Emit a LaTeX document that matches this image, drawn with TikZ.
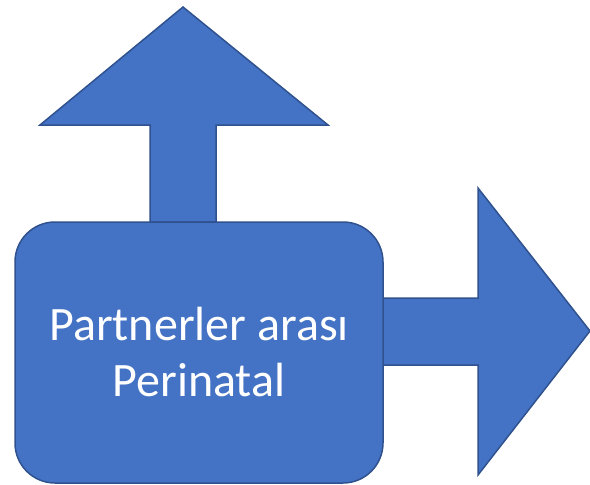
\documentclass[tikz,border=0pt]{standalone}
\usepackage{fontspec}
\setmainfont{Carlito}
\usetikzlibrary{positioning}
\definecolor{boxblue}{HTML}{4472C4}
\definecolor{edgeblue}{HTML}{2F528F}
\begin{document}
\begin{tikzpicture}[x=1pt,y=-1pt,
	blue shape/.style = {fill=boxblue,draw=edgeblue,line width=1.5pt,line join=miter},
	main box/.style = {blue shape,rounded corners=40pt,minimum width=368pt,minimum height=261pt,
		inner sep=0pt,align=center,text=white,font=\fontsize{48}{56}\selectfont}]
	\useasboundingbox (0,0) rectangle (590,485);
	% arrows behind the box
	\draw[blue shape] (150,222) -- (150,125) -- (40,125) -- (183,7) -- (328,125) -- (216,125) -- (216,222) -- cycle;
	\draw[blue shape] (383,298) -- (478,298) -- (478,188) -- (590,331) -- (478,475) -- (478,365) -- (383,365) -- cycle;
	\node[main box] (box) at (199,352.5) {Partnerler arası\\Perinatal};
\end{tikzpicture}
\end{document}
